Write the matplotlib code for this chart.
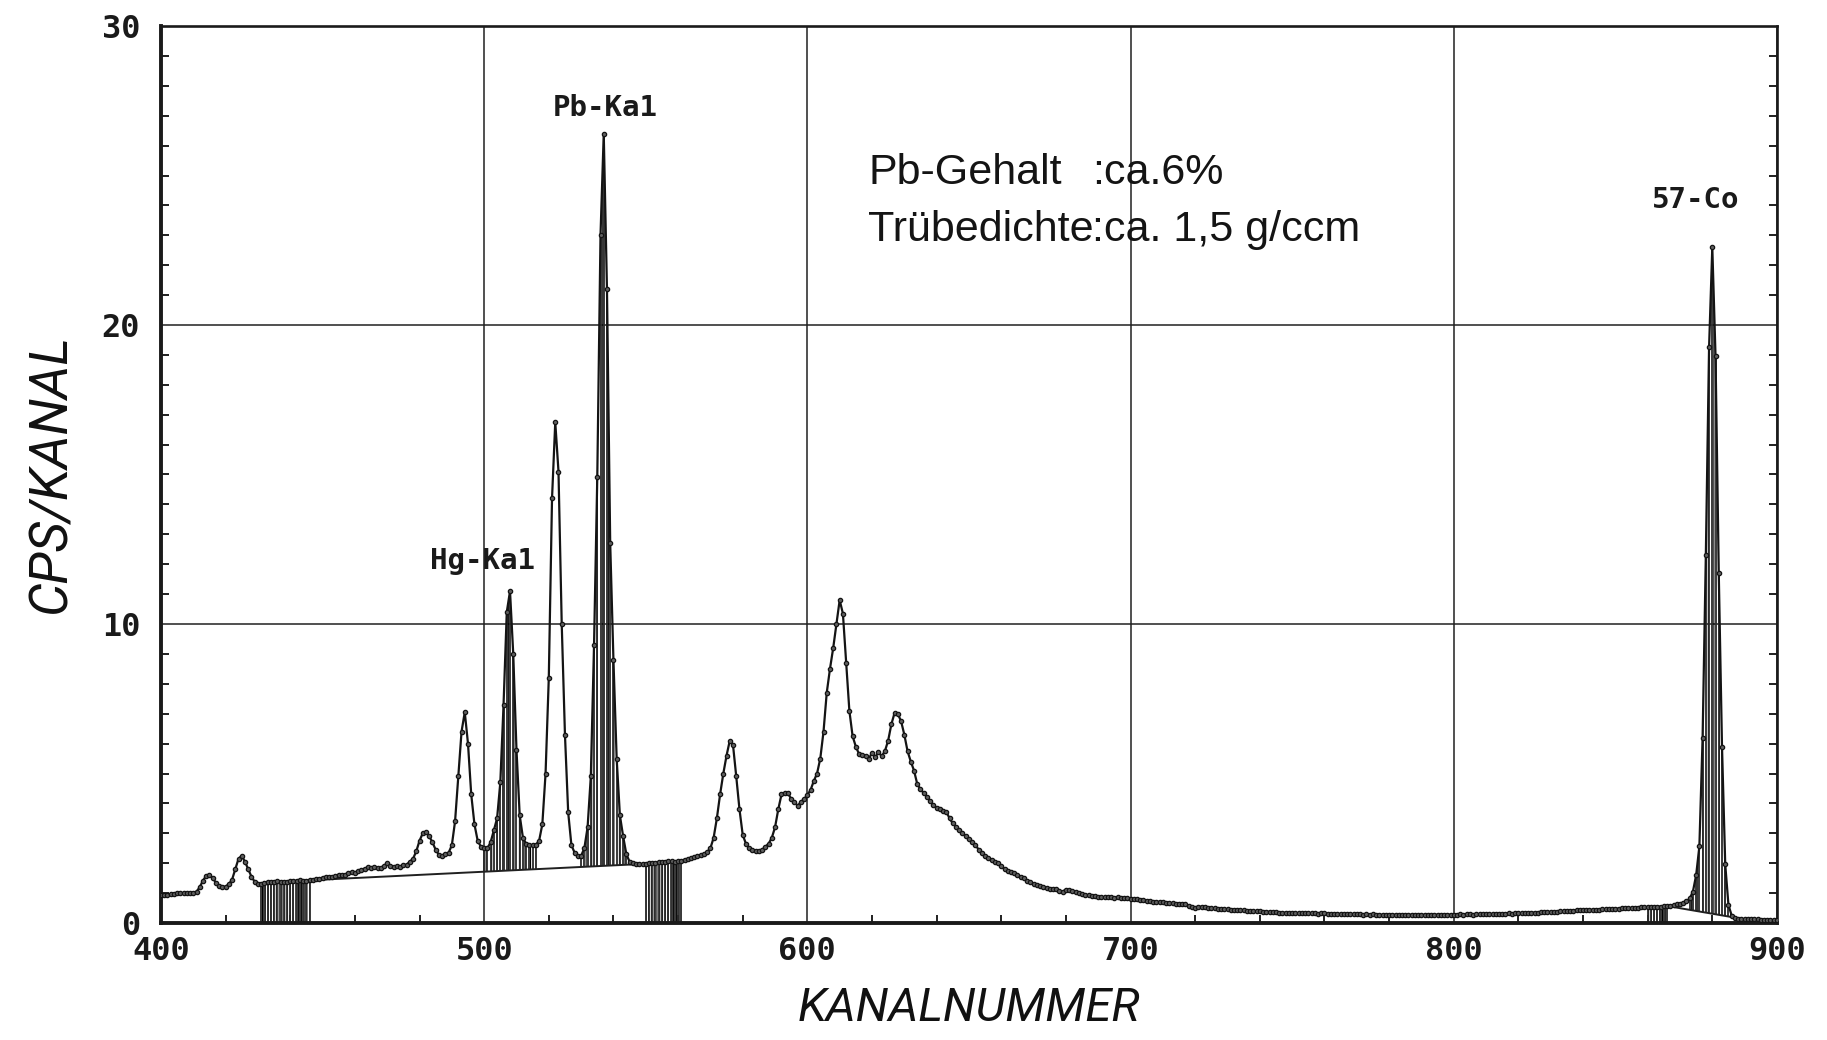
import numpy as np
import matplotlib.pyplot as plt

# spectrum: counts per channel, channels 400..900
channels = np.arange(400, 901)
counts = [
    0.92, 0.93, 0.95, 0.97, 0.98, 0.99, 1.00, 1.00, 1.01, 1.01,   # 400
    1.02, 1.05, 1.20, 1.42, 1.58, 1.62, 1.50, 1.35, 1.25, 1.20,   # 410
    1.22, 1.30, 1.45, 1.80, 2.15, 2.25, 2.05, 1.80, 1.55, 1.38,   # 420
    1.30, 1.31, 1.35, 1.38, 1.37, 1.38, 1.40, 1.38, 1.37, 1.38,   # 430
    1.39, 1.40, 1.42, 1.44, 1.42, 1.42, 1.43, 1.45, 1.46, 1.48,   # 440
    1.52, 1.55, 1.55, 1.53, 1.58, 1.62, 1.60, 1.60, 1.66, 1.70,   # 450
    1.68, 1.74, 1.78, 1.82, 1.86, 1.84, 1.88, 1.85, 1.83, 1.92,   # 460
    2.00, 1.92, 1.88, 1.90, 1.88, 1.93, 1.95, 2.05, 2.15, 2.40,   # 470
    2.75, 3.00, 3.05, 2.90, 2.70, 2.45, 2.28, 2.25, 2.32, 2.35,   # 480
    2.60, 3.40, 4.90, 6.40, 7.05, 6.00, 4.30, 3.30, 2.75, 2.55,   # 490
    2.50, 2.50, 2.70, 3.10, 3.50, 4.70, 7.30, 10.40, 11.10, 9.00, # 500
    5.80, 3.60, 2.85, 2.65, 2.60, 2.60, 2.62, 2.75, 3.30, 5.00,   # 510
    8.20, 14.20, 16.75, 15.10, 10.00, 6.30, 3.70, 2.60, 2.35, 2.25,  # 520
    2.25, 2.50, 3.20, 4.90, 9.30, 14.90, 23.00, 26.40, 21.20, 12.70, # 530
    8.80, 5.50, 3.60, 2.90, 2.30, 2.05, 2.00, 1.98, 1.98, 1.97,   # 540
    1.98, 1.99, 2.00, 2.02, 2.04, 2.03, 2.05, 2.06, 2.06, 2.05,   # 550
    2.07, 2.08, 2.12, 2.14, 2.18, 2.20, 2.24, 2.27, 2.30, 2.38,   # 560
    2.50, 2.85, 3.50, 4.30, 5.00, 5.60, 6.10, 5.95, 4.90, 3.80,   # 570
    2.95, 2.65, 2.50, 2.45, 2.42, 2.40, 2.45, 2.55, 2.65, 2.85,   # 580
    3.20, 3.80, 4.30, 4.36, 4.34, 4.15, 4.05, 3.92, 4.05, 4.15,   # 590
    4.28, 4.45, 4.75, 5.00, 5.50, 6.40, 7.70, 8.50, 9.20, 10.00,  # 600
    10.80, 10.35, 8.70, 7.10, 6.25, 5.90, 5.65, 5.62, 5.60, 5.50, # 610
    5.68, 5.54, 5.72, 5.58, 5.75, 6.10, 6.65, 7.03, 6.99, 6.75,   # 620
    6.30, 5.75, 5.40, 5.10, 4.65, 4.47, 4.35, 4.22, 4.08, 3.95,   # 630
    3.86, 3.80, 3.75, 3.72, 3.50, 3.33, 3.22, 3.12, 3.00, 2.90,   # 640
    2.80, 2.70, 2.62, 2.45, 2.33, 2.25, 2.18, 2.12, 2.05, 2.00,   # 650
    1.90, 1.80, 1.75, 1.70, 1.66, 1.60, 1.53, 1.50, 1.42, 1.36,   # 660
    1.30, 1.27, 1.24, 1.20, 1.17, 1.15, 1.14, 1.13, 1.08, 1.05,   # 670
    1.12, 1.10, 1.07, 1.04, 1.00, 0.97, 0.95, 0.92, 0.90, 0.89,   # 680
    0.88, 0.86, 0.86, 0.87, 0.86, 0.85, 0.86, 0.84, 0.83, 0.82,   # 690
    0.81, 0.80, 0.79, 0.78, 0.77, 0.75, 0.73, 0.71, 0.71, 0.70,   # 700
    0.69, 0.68, 0.67, 0.66, 0.65, 0.65, 0.64, 0.62, 0.58, 0.52,   # 710
    0.50, 0.55, 0.54, 0.52, 0.51, 0.50, 0.49, 0.48, 0.47, 0.46,   # 720
    0.46, 0.45, 0.44, 0.43, 0.43, 0.42, 0.41, 0.40, 0.40, 0.39,   # 730
    0.39, 0.38, 0.38, 0.37, 0.36, 0.36, 0.35, 0.35, 0.34, 0.34,   # 740
    0.34, 0.33, 0.33, 0.34, 0.33, 0.32, 0.33, 0.32, 0.31, 0.32,   # 750
    0.32, 0.31, 0.31, 0.30, 0.31, 0.30, 0.30, 0.29, 0.30, 0.29,   # 760
    0.30, 0.29, 0.28, 0.29, 0.28, 0.29, 0.28, 0.28, 0.27, 0.28,   # 770
    0.28, 0.27, 0.28, 0.27, 0.28, 0.27, 0.27, 0.28, 0.27, 0.27,   # 780
    0.28, 0.27, 0.28, 0.28, 0.27, 0.28, 0.28, 0.27, 0.28, 0.28,   # 790
    0.28, 0.28, 0.29, 0.28, 0.29, 0.29, 0.28, 0.29, 0.29, 0.30,   # 800
    0.29, 0.30, 0.30, 0.31, 0.30, 0.31, 0.31, 0.32, 0.31, 0.32,   # 810
    0.32, 0.33, 0.33, 0.34, 0.34, 0.35, 0.35, 0.36, 0.36, 0.37,   # 820
    0.37, 0.38, 0.38, 0.39, 0.39, 0.40, 0.40, 0.41, 0.42, 0.42,   # 830
    0.43, 0.43, 0.44, 0.44, 0.45, 0.45, 0.46, 0.46, 0.47, 0.47,   # 840
    0.48, 0.48, 0.49, 0.49, 0.50, 0.50, 0.51, 0.51, 0.52, 0.52,   # 850
    0.53, 0.53, 0.54, 0.55, 0.55, 0.56, 0.57, 0.58, 0.60, 0.62,   # 860
    0.64, 0.67, 0.72, 0.82, 1.05, 1.60, 2.56, 6.20, 12.30, 19.25, # 870
    22.60, 18.95, 11.70, 5.90, 1.96, 0.60, 0.25, 0.18, 0.15, 0.14, # 880
    0.13, 0.13, 0.12, 0.12, 0.12, 0.11, 0.11, 0.11, 0.10, 0.10,   # 890
    0.10,                                                          # 900
]
counts = np.array(counts)

# background windows (hatched down to zero)
bg_windows = [(431, 446), (550, 561), (860, 866)]
# linear background between these channels
bg_lines = [(446, 550), (866, 887)]
# peak windows, hatched between spectrum and background line
peak_windows = [(500, 516, 0), (530, 546, 0), (873, 886, 1)]

peak_labels = ["Hg-Ka1", "Pb-Ka1", "57-Co"]
peak_label_x = [499.5, 537.5, 875.0]
peak_label_y = [11.85, 27.0, 23.9]

info_keys = ["Pb-Gehalt", "Trübedichte"]
info_vals = [":ca.6%", ":ca. 1,5 g/ccm"]

plt.rcParams["hatch.linewidth"] = 0.8
plt.rcParams["hatch.color"] = "#303030"

fig = plt.figure(figsize=(18.27, 10.40), dpi=100)
ax = fig.add_axes([0.0881, 0.1125, 0.8845, 0.8625])
ax.set_xlim(400, 900)
ax.set_ylim(0, 30)

hatch_kw = dict(color="#2a2a2a", lw=1.3, zorder=2)

for a, b in bg_windows:
    sel = (channels >= a) & (channels <= b)
    ax.fill_between(channels[sel], 0, counts[sel], facecolor="none",
                    hatch="||||||", lw=0, zorder=2)
    ax.vlines(channels[sel], 0, counts[sel], **hatch_kw)

bg_x = []
bg_y = []
for a, b in bg_lines:
    xs = [a, b]
    ys = [counts[a - 400], counts[b - 400]]
    bg_x.append(xs)
    bg_y.append(ys)
    ax.plot(xs, ys, color="#202020", lw=1.4, zorder=3)

for a, b, k in peak_windows:
    sel = (channels >= a) & (channels <= b)
    base = np.interp(channels[sel], bg_x[k], bg_y[k])
    ax.fill_between(channels[sel], base, counts[sel], facecolor="none",
                    hatch="|||", lw=0, zorder=2)
    ax.vlines(channels[sel], base, counts[sel], **hatch_kw)

ax.plot(channels, counts, color="#141414", lw=1.6, marker="o", ms=3.1,
        mfc="#5e5e5e", mec="#141414", mew=0.9, zorder=4)

# grid and frame
ax.set_xticks(np.arange(400, 901, 100))
ax.set_yticks([0, 10, 20, 30])
ax.set_xticks(np.arange(400, 901, 20), minor=True)
ax.set_yticks(np.arange(0, 31, 1), minor=True)
ax.grid(True, which="major", color="#202020", lw=1.1)
ax.tick_params(axis="x", which="major", length=0, pad=9)
ax.tick_params(axis="y", which="major", length=0, pad=15)
ax.tick_params(which="minor", direction="in", length=6, width=1.4,
               left=True, right=True, bottom=True, top=False, color="#202020")
for side in ["left", "bottom"]:
    ax.spines[side].set_linewidth(2.8)
for side in ["top", "right"]:
    ax.spines[side].set_linewidth(1.9)
for s in ax.spines.values():
    s.set_color("#1a1a1a")

tick_font = dict(family="DejaVu Sans Mono", weight="bold", size=23, color="#1a1a1a")
ax.set_xticklabels([str(v) for v in range(400, 901, 100)], fontdict=tick_font)
ax.set_yticklabels(["0", "10", "20", "30"], fontdict=tick_font)

axis_font = dict(family=["Roboto", "DejaVu Sans"], style="italic", weight="normal",
                 color="#111111")
ax.set_xlabel("KANALNUMMER", fontsize=34, labelpad=14, **axis_font)
ax.set_ylabel("CPS/KANAL", fontsize=38, labelpad=18, **axis_font)

for txt, x, y in zip(peak_labels, peak_label_x, peak_label_y):
    ax.text(x, y, txt, ha="center", va="baseline", family="DejaVu Sans Mono",
            fontsize=21, weight="semibold", color="#1a1a1a")

info_font = dict(family="Liberation Sans", fontsize=31, color="#141414",
                 va="baseline")
for i, (k, v) in enumerate(zip(info_keys, info_vals)):
    y = 24.7 - i * 1.9
    ax.text(618.8, y, k, ha="left", **info_font)
    ax.text(688.0, y, v, ha="left", **info_font)

fig.savefig("out.png", dpi=100)
